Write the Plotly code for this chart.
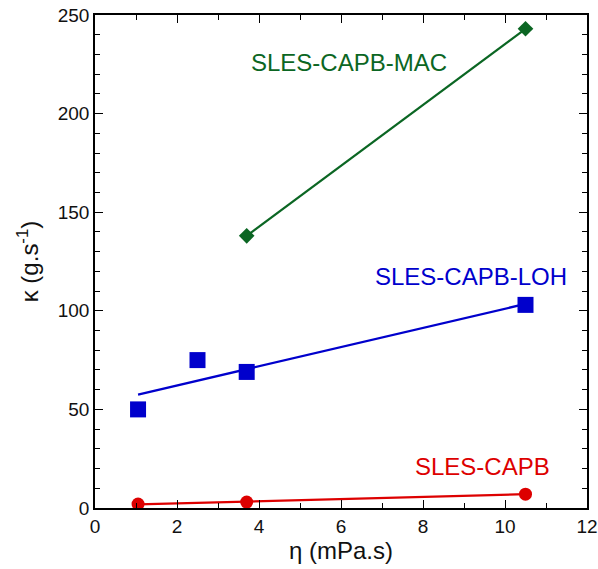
import plotly.graph_objects as go

capb_x = [1.05, 3.7, 10.5]
capb_y = [2, 3, 7]
capb_fit_x = [1.05, 10.5]
capb_fit_y = [1.8, 7.0]

loh_x = [1.05, 2.5, 3.7, 10.5]
loh_y = [50, 75, 69, 103]
loh_fit_x = [1.05, 10.5]
loh_fit_y = [57.5, 103.5]

mac_x = [3.7, 10.5]
mac_y = [138, 243]

green = "#0b6623"
blue = "#0000cc"
red = "#dd0000"
font = "Liberation Sans, Arial, sans-serif"

fig = go.Figure()
fig.add_trace(go.Scatter(x=capb_fit_x, y=capb_fit_y, mode="lines", line=dict(color=red, width=2.2)))
fig.add_trace(go.Scatter(x=capb_x, y=capb_y, mode="markers", marker=dict(symbol="circle", size=13, color=red)))
fig.add_trace(go.Scatter(x=loh_fit_x, y=loh_fit_y, mode="lines", line=dict(color=blue, width=2.2)))
fig.add_trace(go.Scatter(x=loh_x, y=loh_y, mode="markers", marker=dict(symbol="square", size=16, color=blue)))
fig.add_trace(go.Scatter(x=mac_x, y=mac_y, mode="lines+markers", line=dict(color=green, width=2.2),
                         marker=dict(symbol="diamond", size=12, color=green)))

fig.add_annotation(x=6.2, y=226, text="SLES-CAPB-MAC", showarrow=False, font=dict(color=green, size=24, family=font))
fig.add_annotation(x=9.17, y=117.5, text="SLES-CAPB-LOH", showarrow=False, font=dict(color=blue, size=24, family=font))
fig.add_annotation(x=9.44, y=20.8, text="SLES-CAPB", showarrow=False, font=dict(color=red, size=24, family=font))

axis_common = dict(showgrid=False, zeroline=False, showline=True, linecolor="black", linewidth=1.5,
                   mirror="allticks", ticks="inside", ticklen=8, tickwidth=1.2, tickcolor="black",
                   ticklabeloverflow="allow",
                   tickfont=dict(size=19, color="#111", family=font))
fig.update_xaxes(range=[0, 12], dtick=2, tick0=0,
                 minor=dict(dtick=1, ticks="inside", ticklen=5, tickcolor="black", tickwidth=1),
                 title=dict(text="η (mPa.s)", font=dict(size=24, color="#111", family=font), standoff=4),
                 **axis_common)
fig.update_yaxes(range=[0, 250], dtick=50, tick0=0,
                 minor=dict(dtick=10, ticks="inside", ticklen=5, tickcolor="black", tickwidth=1),
                 title=dict(text="κ (g.s<sup>-1</sup>)", font=dict(size=24, color="#111", family=font), standoff=12),
                 **axis_common)
fig.update_layout(width=598, height=569, margin=dict(l=95, r=11, t=15, b=61, autoexpand=False),
                  plot_bgcolor="white", paper_bgcolor="white", showlegend=False)
fig.write_html("out.html", config={"displayModeBar": False},
               post_script="document.body.style.margin='0';document.body.style.overflow='hidden';")
